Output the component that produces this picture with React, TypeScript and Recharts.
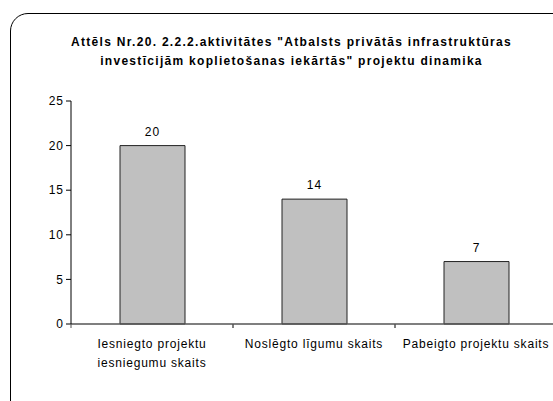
import React from 'react';
import { BarChart, Bar, XAxis, YAxis, LabelList } from 'recharts';

const categories = ['Iesniegto projektu\niesniegumu skaits', 'Noslēgto līgumu skaits', 'Pabeigto projektu skaits'];
const values = [20, 14, 7];
const yTicks = [0, 5, 10, 15, 20, 25];

const data = categories.map((name, i) => ({ name, value: values[i] }));

const font = 'Arial, "Liberation Sans", sans-serif';

// ticks sit between categories, like the Excel original
const CategoryTick = (props: any) => {
  const { x, y, payload } = props;
  const lines = String(payload.value).split('\n');
  const half = payload.offset ?? 81;
  const axisY = y - 6;
  return (
    <g>
      <line x1={x - half} x2={x - half} y1={axisY} y2={axisY + 4} stroke="#555" />
      <line x1={x + half} x2={x + half} y1={axisY} y2={axisY + 4} stroke="#555" />
      <text x={x} y={y} textAnchor="middle" fill="#000" fontSize={12} fontFamily={font} letterSpacing={0.8}>
        {lines.map((line: string, i: number) => (
          <tspan key={i} x={x} dy={i === 0 ? 18 : 19}>
            {line}
          </tspan>
        ))}
      </text>
    </g>
  );
};

const App: React.FC = () => {
  return (
    <div style={{ position: 'absolute', left: 0, top: 0, width: 553, height: 401, overflow: 'hidden', background: '#fff' }}>
      <div
        style={{
          position: 'absolute',
          left: 10,
          top: 13,
          width: 600,
          height: 450,
          border: '1.5px solid #000',
          borderTopLeftRadius: 18,
        }}
      />
      <div
        style={{
          position: 'absolute',
          left: 40,
          top: 33,
          width: 503,
          textAlign: 'center',
          fontFamily: font,
          fontWeight: 'bold',
          fontSize: 12,
          letterSpacing: 1.3,
          lineHeight: '19px',
        }}
      >
        Attēls Nr.20. 2.2.2.aktivitātes "Atbalsts privātās infrastruktūras
        <br />
        investīcijām koplietošanas iekārtās" projektu dinamika
      </div>
      <div style={{ position: 'absolute', left: 0, top: 0 }}>
        <BarChart
          width={560}
          height={401}
          data={data}
          margin={{ top: 101, right: 3, bottom: 0, left: 31 }}
        >
          <XAxis
            dataKey="name"
            interval={0}
            tick={<CategoryTick />}
            tickLine={false}
            axisLine={{ stroke: '#555', strokeWidth: 1.5 }}
            tickSize={4}
            height={77}
          />
          <YAxis
            domain={[0, 25]}
            ticks={yTicks}
            width={40}
            tick={{ fill: '#000', fontSize: 12, fontFamily: font, letterSpacing: 1 }}
            tickLine={{ stroke: '#000' }}
            axisLine={{ stroke: '#000' }}
            tickSize={5}
          />
          <Bar dataKey="value" fill="#C0C0C0" stroke="#222" strokeWidth={1} barSize={65} isAnimationActive={false}>
            <LabelList dataKey="value" position="top" offset={10} fill="#000" fontSize={12} fontFamily={font} letterSpacing={1} />
          </Bar>
        </BarChart>
      </div>
    </div>
  );
};

export default App;
